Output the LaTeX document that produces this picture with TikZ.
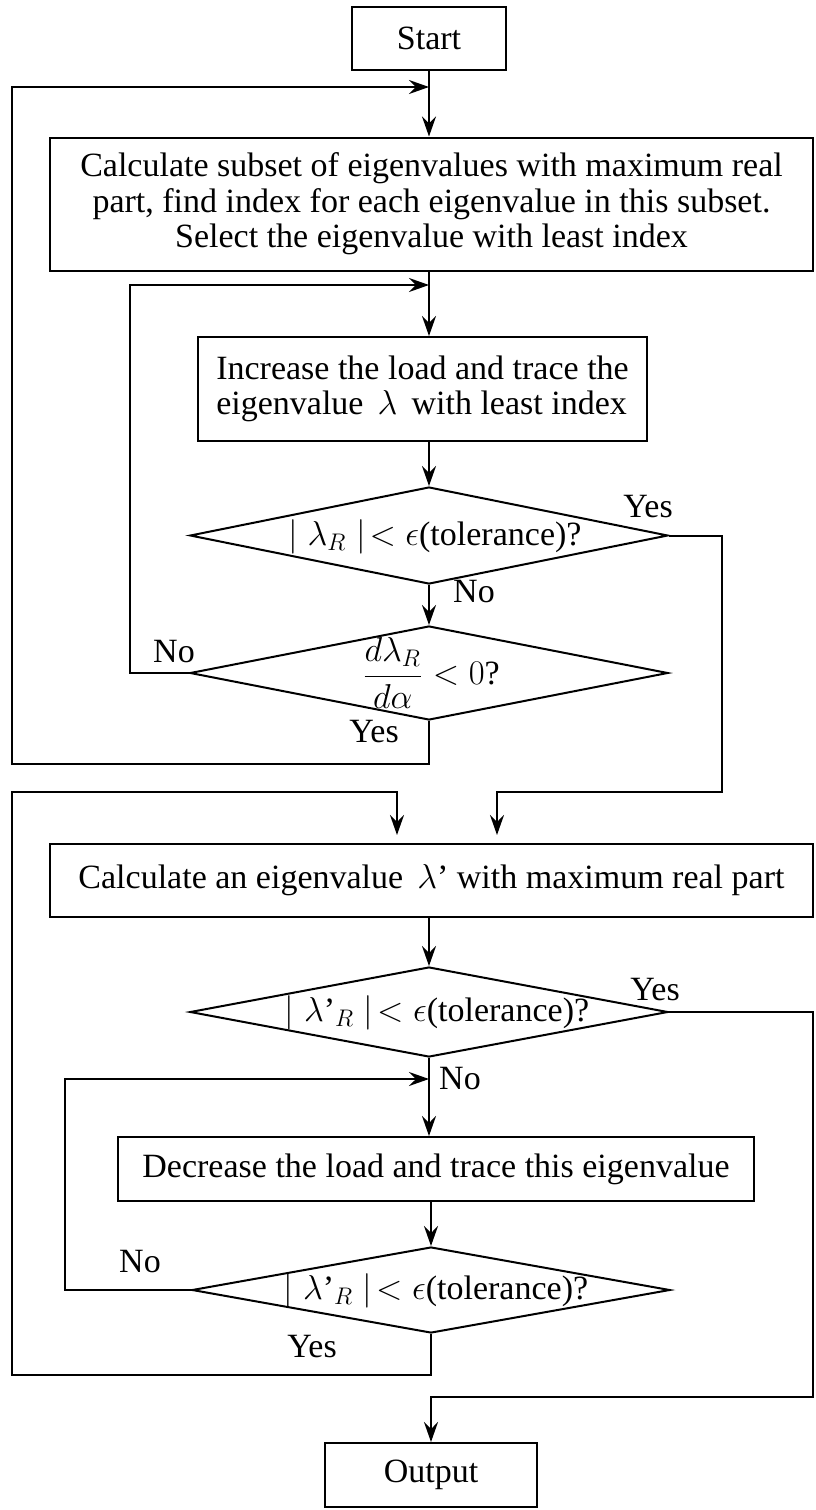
\documentclass[tikz,border=0pt]{standalone}
\usepackage{fontspec}
\setmainfont{Liberation Serif}
\usetikzlibrary{arrows.meta,shapes.geometric}
\newcommand{\sq}{{\char"27}}
\begin{document}
\begin{tikzpicture}[x=0.5pt,y=-0.5pt,
  every node/.style={font=\fontsize{17}{17.8}\selectfont},
  box/.style={draw,line width=1pt,inner sep=0pt},
  dia/.style={draw,diamond,line width=1pt,inner sep=0pt,minimum width=239pt},
  lbl/.style={inner sep=0pt},
  arr/.style={-{Stealth[length=10pt,width=7pt,inset=3.5pt]},line width=1pt},
  ln/.style={line width=1pt}]
\useasboundingbox (0,0) rectangle (815,1510);

% boxes
\node[box,minimum width=77pt,minimum height=31.5pt] (start) at (429,38.5) {Start};
\node[box,minimum width=381.5pt,minimum height=66.5pt,align=center] (b1) at (431.5,204)
  {Calculate subset of eigenvalues with maximum real\\part, find index for each eigenvalue in this subset.\\Select the eigenvalue with least index};
\node[box,minimum width=224.5pt,minimum height=52pt,align=left] (b2) at (422.5,389)
  {Increase the load and trace the\\eigenvalue \,$\lambda$\, with least index};
\node[box,minimum width=381.5pt,minimum height=36.5pt] (b3) at (431.5,880.5)
  {Calculate an eigenvalue \,$\lambda$\sq{} with maximum real part};
\node[box,minimum width=318pt,minimum height=32pt] (b4) at (436,1169)
  {Decrease the load and trace this eigenvalue};
\node[box,minimum width=106pt,minimum height=32pt] (out) at (431,1475) {Output};

% diamonds
\node[dia,minimum height=48.5pt] (d1) at (429,535.5) {};
\node[lbl] (d1t) at (435,537) {$\Big|\;\lambda_R\;\Big|\!<\epsilon$(tolerance)?};
\node[dia,minimum height=47pt] (d2) at (429,673) {};
\node[lbl] (d2t) at (431,673) {$\displaystyle\frac{d\lambda_R}{d\alpha}<0$?};
\node[dia,minimum height=45pt] (d3) at (429,1012) {};
\node[lbl] (d3t) at (437,1013) {$\Big|\;\lambda\mbox{\sq}_R\;\Big|\!<\epsilon$(tolerance)?};
\node[dia,minimum height=43pt] (d4) at (431,1290) {};
\node[lbl] (d4t) at (436,1291) {$\Big|\;\lambda\mbox{\sq}_R\;\Big|\!<\epsilon$(tolerance)?};

% labels
\node[lbl] (y1) at (648,507) {Yes};
\node[lbl] (n1) at (474,592) {No};
\node[lbl] (n2) at (174,652) {No};
\node[lbl] (y2) at (374,732) {Yes};
\node[lbl] (y3) at (655,990) {Yes};
\node[lbl] (n3) at (460,1079) {No};
\node[lbl] (n4) at (140,1262) {No};
\node[lbl] (y4) at (312,1347) {Yes};

% helper coordinates
\coordinate (j1) at (429,87);
\coordinate (o1a) at (12,764);
\coordinate (o1b) at (12,87);
\coordinate (j2) at (429,285);
\coordinate (i1a) at (130,673);
\coordinate (i1b) at (130,285);
\coordinate (r1) at (722,792);
\coordinate (a1) at (497,835);
\coordinate (o2a) at (12,1375);
\coordinate (o2b) at (12,792);
\coordinate (a2) at (397,835);
\coordinate (j3) at (429,1079);
\coordinate (i2a) at (65,1290);
\coordinate (i2b) at (65,1079);
\coordinate (r2) at (813,1397);

% connectors
\draw[arr] (start.south) -- (start.south |- b1.north);
\draw[arr] (start.south |- b1.south) -- (start.south |- b2.north);
\draw[arr] (d1.north |- b2.south) -- (d1.north);
\draw[arr] (d1.south) -- (d2.north);
\draw[arr] (d2.south) |- (o1a) -- (o1b) -- (j1);
\draw[arr] (d2.west) -- (i1a) -- (i1b) -- (j2);
\draw[arr] (d1.east) -| (r1) -| (a1);
\draw[arr] (d4.south) |- (o2a) -- (o2b) -| (a2);
\draw[arr] (d3.north |- b3.south) -- (d3.north);
\draw[arr] (d3.south) -- (d3.south |- b4.north);
\draw[arr] (d4.west) -- (i2a) -- (i2b) -- (j3);
\draw[arr] (d4.north |- b4.south) -- (d4.north);
\draw[arr] (d3.east) -| (r2) -| (out.north);
\end{tikzpicture}
\end{document}
